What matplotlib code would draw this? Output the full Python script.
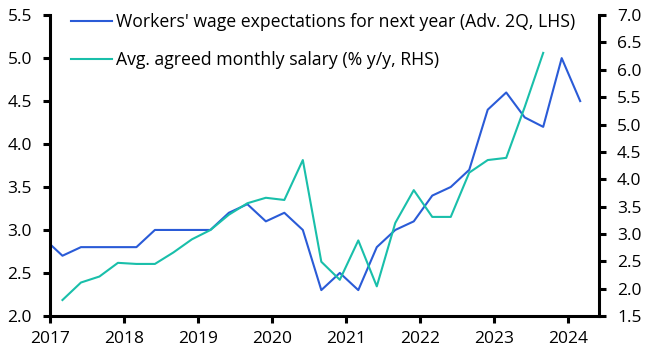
import numpy as np
import matplotlib
matplotlib.use('Agg')
import matplotlib.pyplot as plt

plt.rcParams['font.family'] = ['Open Sans', 'DejaVu Sans']
plt.rcParams['font.size'] = 13

# ── 数据 ──────────────────────────────────────────────
# quarter-end months, blue series starts Dec 2016
blue_dates = [2016 + 11 / 12 + 0.25 * i for i in range(30)]
blue_vals = [2.9, 2.7, 2.8, 2.8, 2.8, 2.8, 3.0, 3.0, 3.0, 3.0,
             3.2, 3.3, 3.1, 3.2, 3.0, 2.3, 2.5, 2.3, 2.8, 3.0,
             3.1, 3.4, 3.5, 3.7, 4.4, 4.6, 4.31, 4.2, 5.0, 4.5]

teal_dates = [2017 + 2 / 12 + 0.25 * i for i in range(27)]
teal_vals = [1.79, 2.11, 2.22, 2.47, 2.45, 2.45, 2.66, 2.90, 3.07, 3.35,
             3.56, 3.66, 3.62, 4.35, 2.49, 2.16, 2.88, 2.04, 3.20, 3.80,
             3.31, 3.31, 4.12, 4.35, 4.39, 5.32, 6.31]

years = list(range(2017, 2025))
left_ticks = [2.0, 2.5, 3.0, 3.5, 4.0, 4.5, 5.0, 5.5]
right_ticks = [1.5, 2.0, 2.5, 3.0, 3.5, 4.0, 4.5, 5.0, 5.5, 6.0, 6.5, 7.0]

BLUE = '#2A5BD7'
TEAL = '#19BFAA'

fig, ax = plt.subplots(figsize=(6.51, 3.61), dpi=100)
fig.subplots_adjust(left=0.077, right=0.920, top=0.958, bottom=0.125)
ax2 = ax.twinx()

l1, = ax.plot(blue_dates, blue_vals, color=BLUE, lw=1.5,
              label="Workers' wage expectations for next year (Adv. 2Q, LHS)")
l2, = ax2.plot(teal_dates, teal_vals, color=TEAL, lw=1.5,
               label='Avg. agreed monthly salary (% y/y, RHS)')

ax.set_xlim(2017, 2024.42)
ax.set_ylim(2.0, 5.5)
ax2.set_ylim(1.5, 7.0)
ax.set_xticks(years)
ax.set_yticks(left_ticks)
ax.set_yticklabels([f'{v:.1f}' for v in left_ticks])
ax2.set_yticks(right_ticks)
ax2.set_yticklabels([f'{v:.1f}' for v in right_ticks])

for a in (ax, ax2):
    a.spines['top'].set_visible(False)
    for s in ('left', 'right', 'bottom'):
        a.spines[s].set_linewidth(2.2)
    a.tick_params(axis='y', width=2.2, length=5, colors='black',
                  labelsize=12.5, pad=8)
ax.tick_params(axis='x', width=2.2, length=5, colors='black',
               labelsize=12.5, pad=6)
ax.spines['right'].set_visible(False)
ax2.spines['left'].set_visible(False)
ax2.spines['bottom'].set_visible(False)

ax.legend([l1, l2], [l1.get_label(), l2.get_label()], loc='upper left',
          bbox_to_anchor=(71 / 651, 1 - 13 / 361),
          bbox_transform=fig.transFigure, borderpad=0, borderaxespad=0,
          frameon=False, handlelength=2.3, handletextpad=0.25,
          labelspacing=1.15, fontsize=12.7)

fig.savefig('out.png', dpi=100)
